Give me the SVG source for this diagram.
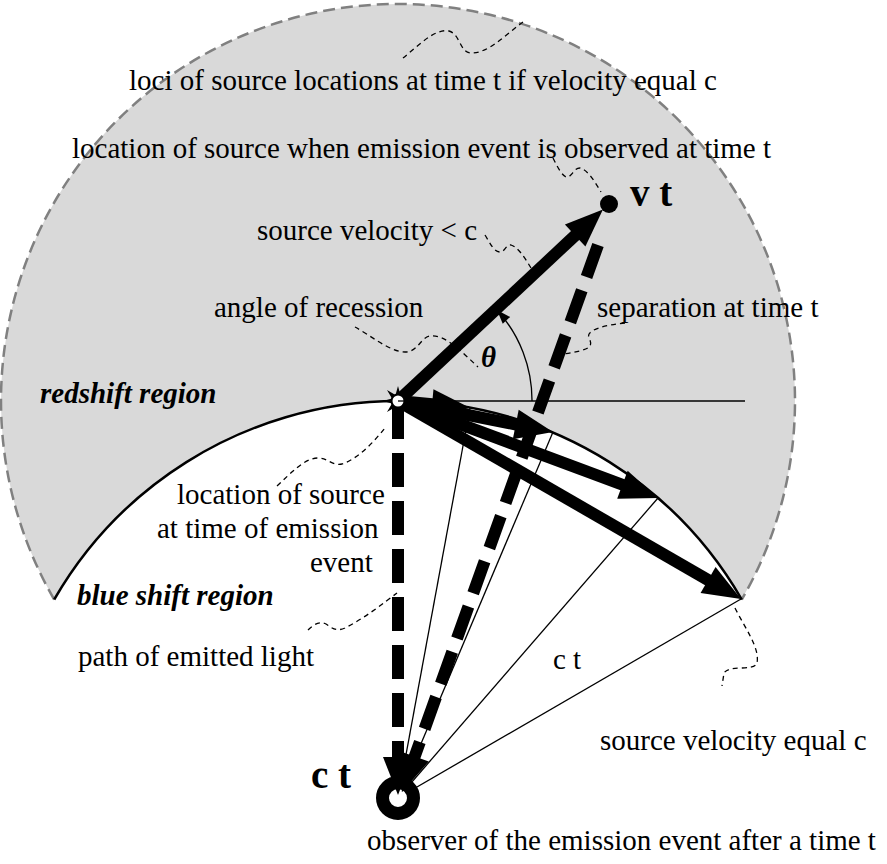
<svg xmlns="http://www.w3.org/2000/svg" width="887" height="864" viewBox="0 0 887 864">
<style>
text{font-family:"Liberation Serif","Times New Roman",serif;font-size:29px;fill:#000}
.bi{font-weight:bold;font-style:italic}
.b{font-weight:bold;font-size:39px}
.lead{fill:none;stroke:#000;stroke-width:1.3;stroke-dasharray:5 4}
.thin{fill:none;stroke:#000;stroke-width:1.3}
.thick{fill:none;stroke:#000;stroke-width:12}
.dash{fill:none;stroke:#000;stroke-width:12;stroke-dasharray:34 14}
</style>
<defs>
<marker id="ah" markerUnits="userSpaceOnUse" viewBox="-45 -20 50 40" refX="-30" refY="0" markerWidth="50" markerHeight="40" orient="auto">
<path d="M0,0 L-38,-15 L-38,15 Z" fill="#000"/>
</marker>
<marker id="sa" markerUnits="userSpaceOnUse" viewBox="-16 -7 18 14" refX="0" refY="0" markerWidth="18" markerHeight="14" orient="auto">
<path d="M0,0 L-14,-5 L-14,5 Z" fill="#000"/>
</marker>
</defs>

<g id="regions">
<path d="M54.2,599.5 A397,397 0 1 1 741.8,599.5 A397,397 0 0 0 54.2,599.5 Z" fill="#d9d9d9"/>
<path d="M54.2,599.5 A397,397 0 1 1 741.8,599.5" fill="none" stroke="#808080" stroke-width="2.5" stroke-dasharray="12 6"/>
<path d="M54.2,599.5 A397,397 0 0 1 741.8,599.5" fill="none" stroke="#000" stroke-width="2.5"/>
</g>

<g id="connectors">
<line class="thin" x1="398" y1="798" x2="470" y2="408"/>
<line class="thin" x1="398" y1="798" x2="553" y2="432"/>
<line class="thin" x1="398" y1="798" x2="658" y2="498"/>
<line class="thin" x1="398" y1="798" x2="741" y2="599"/>
<line class="thin" x1="398" y1="401" x2="745" y2="401"/>
<path class="thin" d="M532,401 A134,134 0 0 0 497,310" marker-end="url(#sa)"/>
<path class="lead" d="M403,58 C418,46 435,28 449,31 C460,34 460,52 470,53 C488,54 505,35 523,22"/>
<path class="lead" d="M553,158 C558,168 563,178 568,177 C573,175 574,168 580,168 C588,170 595,182 601,192"/>
<path class="lead" d="M485,235 C490,243 494,252 500,252 C505,252 506,244 511,245 C518,247 525,258 531,268"/>
<path class="lead" d="M355,327 C370,335 390,352 405,352 C418,352 420,338 430,336 C445,334 462,352 478,367"/>
<path class="lead" d="M625,323 C605,325 585,330 589,338 C593,346 592,350 563,354"/>
<path class="lead" d="M277,486 C292,472 305,458 318,458 C328,458 332,466 342,464 C360,458 375,440 385,428"/>
<path class="lead" d="M308,630 C314,624 320,621 326,624 C332,628 336,632 345,628 C365,618 385,602 397,593"/>
<path class="lead" d="M735,608 C745,628 760,648 757,663 C754,672 730,664 724,673 L722,686"/>
<line class="thick" x1="398" y1="401" x2="581" y2="230" stroke-width="11" marker-end="url(#ah)"/>
<line class="thick" x1="398" y1="401" x2="440" y2="405" marker-end="url(#ah)"/>
<line class="thick" x1="398" y1="401" x2="523.6" y2="426.1" marker-end="url(#ah)"/>
<line class="thick" x1="398" y1="401" x2="629.9" y2="487.5" marker-end="url(#ah)"/>
<line class="thick" x1="398" y1="401" x2="715" y2="584" stroke-width="14" marker-end="url(#ah)"/>
</g>

<g id="observer">
<circle cx="398" cy="798" r="15.5" fill="#fff" stroke="#000" stroke-width="13"/>
</g>

<g id="light-paths">
<line class="dash" x1="398" y1="405" x2="398" y2="765" marker-end="url(#ah)"/>
<line class="dash" x1="598" y1="245" x2="412" y2="764" stroke-width="11" marker-end="url(#ah)"/>
</g>

<g id="source-emission">
<polygon points="398,386 400.5,395 409,390 404,398.5 413,401 404,403.5 409,412 400.5,407 398,416 395.5,407 387,412 392,403.5 383,401 392,398.5 387,390 395.5,395" fill="#000"/>
<circle cx="398" cy="401" r="6.5" fill="#fff" stroke="#000" stroke-width="2"/>
<line x1="398" y1="401" x2="404" y2="401" stroke="#000" stroke-width="1.3"/>
</g>

<g id="source-later">
<circle cx="609" cy="204" r="9" fill="#000"/>
</g>

<g id="labels">
<text x="129" y="90">loci of source locations at time t if velocity equal c</text>
<text x="72" y="158">location of source when emission event is observed at time t</text>
<text class="b" x="630" y="206">v t</text>
<text x="257" y="240">source velocity &lt; c</text>
<text x="214" y="317">angle of recession</text>
<text x="597" y="317">separation at time t</text>
<text x="481" y="367" font-size="44" font-style="italic" font-weight="bold">θ</text>
<text class="bi" x="40" y="403">redshift region</text>
<text x="177" y="504">location of source</text>
<text x="157" y="538">at time of emission</text>
<text x="310" y="572">event</text>
<text class="bi" x="77" y="605">blue shift region</text>
<text x="78" y="666">path of emitted light</text>
<text x="553" y="669">c t</text>
<text x="600" y="750">source velocity equal c</text>
<text class="b" x="311" y="788">c t</text>
<text x="367" y="850">observer of the emission event after a time t</text>
</g>
</svg>
